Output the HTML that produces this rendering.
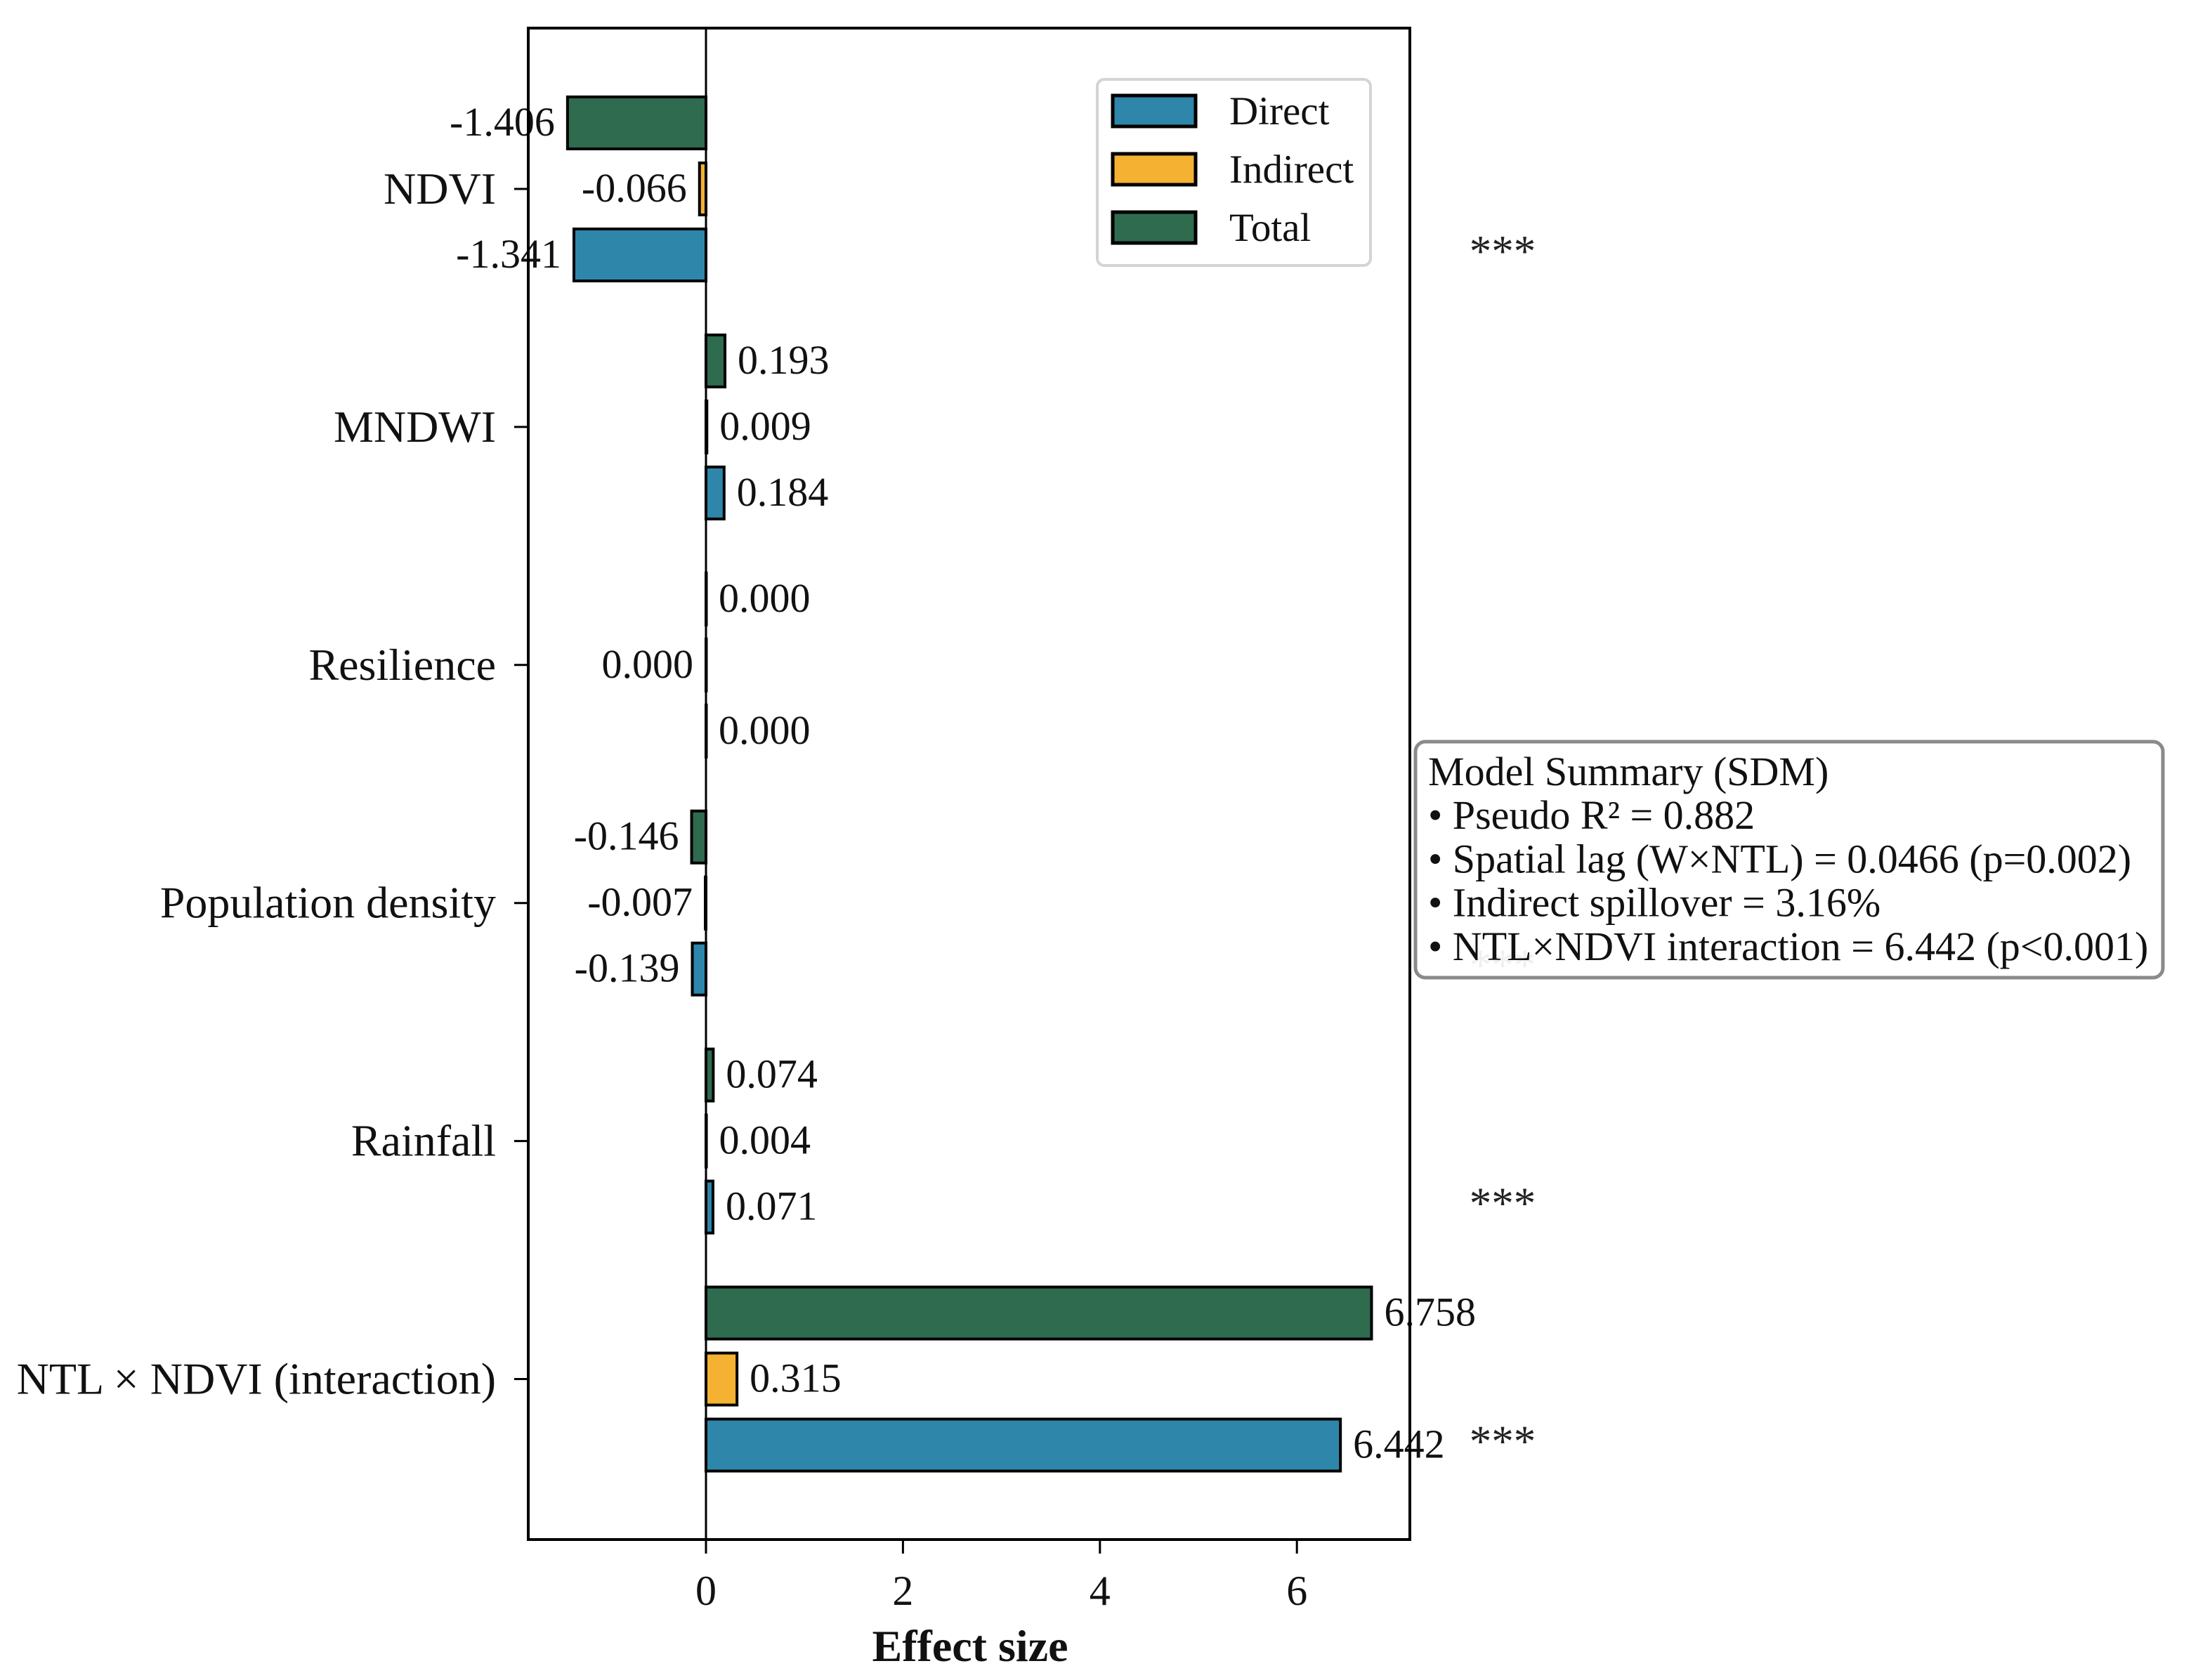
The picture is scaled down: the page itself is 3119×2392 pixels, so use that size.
<!DOCTYPE html>
<html><head><meta charset="utf-8"><style>
html,body{margin:0;padding:0;background:#fff;}
svg{display:block;font-family:"Liberation Serif",serif;}
</style></head><body>
<svg id="chart" width="3119" height="2392" viewBox="0 0 3119 2392" xmlns="http://www.w3.org/2000/svg"></svg>
<script>
const categories = ["NDVI","MNDWI","Resilience","Population density","Rainfall","NTL × NDVI (interaction)"];
const directVals = [-1.341,0.184,0.000,-0.139,0.071,6.442];
const indirectVals = [-0.066,0.009,-0.0001,-0.007,0.004,0.315];
const totalVals = [-1.406,0.193,0.000,-0.146,0.074,6.758];
const directLabels = ["-1.341","0.184","0.000","-0.139","0.071","6.442"];
const indirectLabels = ["-0.066","0.009","0.000","-0.007","0.004","0.315"];
const totalLabels = ["-1.406","0.193","0.000","-0.146","0.074","6.758"];
const sigStars = ["***","","","***","***","***"];
const xTicks = [0,2,4,6];
const summaryLines = ["Model Summary (SDM)","• Pseudo R² = 0.882","• Spatial lag (W×NTL) = 0.0466 (p=0.002)","• Indirect spillover = 3.16%","• NTL×NDVI interaction = 6.442 (p<0.001)"];

const svg = document.getElementById('chart');
const NS = "http://www.w3.org/2000/svg";
const L=752,R=2007,T=40,B=2192;
const x0=1005, pxPerUnit=140.2;
const xs = v => x0 + v*pxPerUnit;
const yc = i => 269 + i*338.9;
function el(tag, attrs, parent){const e=document.createElementNS(NS,tag);for(const k in attrs)e.setAttribute(k,attrs[k]);(parent||svg).appendChild(e);return e;}
function txt(s, attrs, parent){const e=el('text',attrs,parent);e.textContent=s;return e;}

const series=[
 {vals:totalVals,labels:totalLabels,color:"#2e6b4f",off:-94,name:"total"},
 {vals:indirectVals,labels:indirectLabels,color:"#f4b132",off:0,name:"indirect"},
 {vals:directVals,labels:directLabels,color:"#2e86ab",off:94,name:"direct"}
];
sigStars.forEach((s,i)=>{ if(!s) return;
 const t=txt(s,{x:2139,y:yc(i)+94+16,'font-size':63,'text-anchor':'middle',fill:'#222'});
 
 
});
series.forEach(sr=>{
 sr.vals.forEach((v,i)=>{
  const cy=yc(i)+sr.off, h=74;
  const xa=Math.min(xs(0),xs(v)), w=Math.abs(xs(v)-xs(0));
  const r=el('rect',{x:xa,y:cy-h/2,width:Math.max(w,0.5),height:h,fill:sr.color,stroke:'#000','stroke-width':4});
  
  
  const neg=v<0;
  const lt=txt(sr.labels[i],{x:neg?xs(v)-18:xs(v)+18,y:cy+18,'font-size':58,'text-anchor':neg?'end':'start',fill:'#111'});
  
  
 });
});
const zl=el('line',{x1:x0,x2:x0,y1:T,y2:B,stroke:'#000','stroke-width':3});


const fr=el('rect',{x:L,y:T,width:R-L,height:B-T,fill:'none',stroke:'#000','stroke-width':4});


categories.forEach((c,i)=>{
 el('line',{x1:L-20,x2:L,y1:yc(i),y2:yc(i),stroke:'#000','stroke-width':3});
 const t=txt(c,{x:L-46,y:yc(i)+21,'font-size':64,'text-anchor':'end',fill:'#111'});
 
 
});
xTicks.forEach(v=>{
 el('line',{x1:xs(v),x2:xs(v),y1:B,y2:B+20,stroke:'#000','stroke-width':3});
 const t=txt(String(v),{x:xs(v),y:2285,'font-size':60,'text-anchor':'middle',fill:'#111'});
 
 
});
const xl=txt("Effect size",{x:1381,y:2365,'font-size':64,'font-weight':'bold','text-anchor':'middle',fill:'#111'});


const lg=el('g',{});


el('rect',{x:1562,y:113,width:389,height:265,rx:10,fill:'#fff',stroke:'#d4d4d4','stroke-width':4},lg);
[["Direct","#2e86ab"],["Indirect","#f4b132"],["Total","#2e6b4f"]].forEach((d,k)=>{
 const cy=158+k*83;
 el('rect',{x:1584,y:cy-22,width:118,height:44,fill:d[1],stroke:'#000','stroke-width':5},lg);
 const t=txt(d[0],{x:1750,y:cy+19,'font-size':57,fill:'#111'},lg);
 
 
});
const sb=el('g',{});


el('rect',{x:2015,y:1056,width:1064,height:336,rx:14,fill:'#fff','fill-opacity':0.93,stroke:'#8a8a8a','stroke-width':5},sb);
summaryLines.forEach((s,k)=>{
 const t=txt(s,{x:2033,y:1118+k*62.2,'font-size':58,fill:'#111'},sb);
 
 
});
</script>
</body></html>
